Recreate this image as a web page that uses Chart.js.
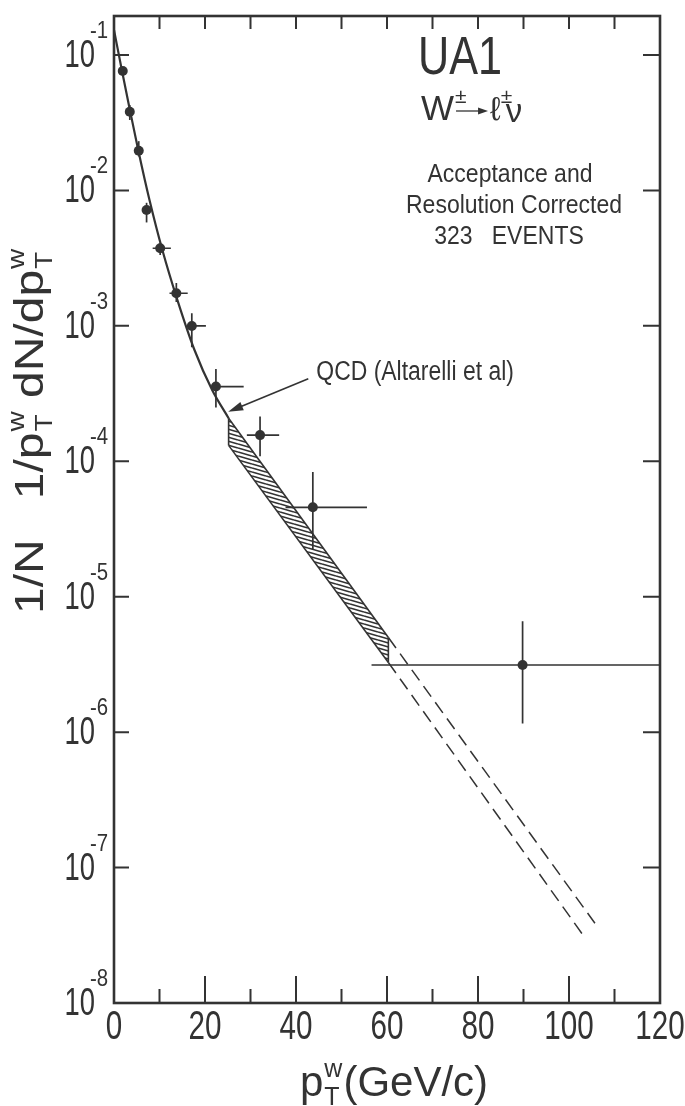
<!DOCTYPE html>
<html><head><meta charset="utf-8">
<script src="https://cdn.jsdelivr.net/npm/chart.js@4.4.1/dist/chart.umd.min.js"></script>
<style>html,body{margin:0;padding:0;background:#fff;}canvas{display:block;}</style>
</head><body>
<canvas id="c" width="685" height="1106"></canvas>
<script>
// ---- measured data points (pT in GeV/c, 1/N 1/pT dN/dpT) ----
const ptX   = [1.92, 3.47, 5.44, 7.16, 10.15, 13.7, 17.1, 22.4, 32.1, 43.7, 89.8];
const ptY   = [0.0762, 0.0381, 0.0196, 0.00716, 0.00374, 0.00174, 0.000998, 3.56e-4, 1.56e-4, 4.57e-5, 3.13e-6];
const ptYHi = [0.081, 0.0427, 0.0231, 0.0081, 0.0041, 0.00207, 0.00124, 4.81e-4, 2.14e-4, 8.32e-5, 6.6e-6];
const ptYLo = [0.071, 0.0331, 0.0178, 0.0058, 0.00334, 0.0015, 0.000696, 2.5e-4, 1.09e-4, 2.24e-5, 1.16e-6];
const ptXLo = [null, null, null, null, 8.5, 12.2, 16.2, 21.5, 29.2, 37.7, 56.6];
const ptXHi = [null, null, null, null, 12.5, 16.2, 20.2, 28.5, 36.3, 55.6, 120];
// ---- QCD curve (Altarelli et al) ----
const qcdX = [0, 1.72, 3.49, 5.32, 7.8, 10.63, 13.94, 17.69, 21.57, 25.19];
const qcdY = [0.153, 0.0775, 0.0393, 0.0199, 0.0085, 0.00363, 0.00155, 6.63e-4, 3.36e-4, 2.08e-4];
// ---- hatched band ----
const bandX  = [25.19, 60.3];
const bandHi = [2.08e-4, 5.0e-6];
const bandLo = [1.31e-4, 3.27e-6];
// ---- dashed extrapolations ----
const dashHiX = [60.3, 105.7], dashHiY = [5.0e-6, 3.88e-8];
const dashLoX = [60.3, 103.6], dashLoY = [3.27e-6, 3.0e-8];
// ---- annotation arrow (data coords) ----
const arrowTail = [42.7, 4.06e-4];
const arrowTip  = [25.1, 2.32e-4];
// ---- axes ----
const xTickVals = [0, 20, 40, 60, 80, 100, 120];
const xTickLabels = ['0', '20', '40', '60', '80', '100', '120'];
const xMinorVals = [10, 30, 50, 70, 90, 110];
const yTickVals = [1e-1, 1e-2, 1e-3, 1e-4, 1e-5, 1e-6, 1e-7, 1e-8];
const yTickExps = ['-1', '-2', '-3', '-4', '-5', '-6', '-7', '-8'];

const INK = '#333';
const FONT = '"Liberation Sans", Arial, Helvetica, sans-serif';

function pts(xs, ys){ return xs.map((v,i)=>({x:v, y:ys[i]})); }

const canvas = document.getElementById('c');
const cctx = canvas.getContext('2d');
function hatch(){
  const W = 14, H = 4;
  const t = document.createElement('canvas'); t.width = W; t.height = H;
  const g = t.getContext('2d'); g.strokeStyle = INK; g.lineWidth = 1.6;
  for (let k=-1;k<=1;k++){ g.beginPath(); g.moveTo(0,k*H); g.lineTo(W,H+k*H); g.stroke(); }
  return cctx.createPattern(t,'repeat');
}

function txt(ctx, s, x, y, size, sx, align){
  ctx.save(); ctx.translate(x,y); ctx.scale(sx||1,1);
  ctx.font = size+'px '+FONT; ctx.textAlign = align||'left'; ctx.textBaseline='alphabetic';
  ctx.fillStyle = INK; ctx.fillText(s,0,0); ctx.restore();
}
function measure(ctx, s, size){ ctx.save(); ctx.font = size+'px '+FONT; const w = ctx.measureText(s).width; ctx.restore(); return w; }

const deco = {
  id:'deco',
  beforeDraw(chart){ const c=chart.ctx; c.save(); c.fillStyle='#fff'; c.fillRect(0,0,chart.width,chart.height); c.restore(); },
  afterDatasetsDraw(chart){
    const {ctx, chartArea:a, scales:{x,y}} = chart;
    ctx.save(); ctx.beginPath(); ctx.rect(a.left,a.top,a.right-a.left,a.bottom-a.top); ctx.clip();
    ctx.strokeStyle = INK; ctx.lineWidth = 1.7;
    for (let i=0;i<ptX.length;i++){
      const px = x.getPixelForValue(ptX[i]), py = y.getPixelForValue(ptY[i]);
      ctx.beginPath();
      ctx.moveTo(px, y.getPixelForValue(ptYHi[i])); ctx.lineTo(px, y.getPixelForValue(ptYLo[i]));
      if (ptXLo[i]!==null){ ctx.moveTo(x.getPixelForValue(ptXLo[i]), py); ctx.lineTo(x.getPixelForValue(ptXHi[i]), py); }
      ctx.stroke();
    }
    ctx.restore();
  },
  afterDraw(chart){
    const {ctx, chartArea:a, scales:{x,y}} = chart;
    ctx.save();
    ctx.strokeStyle = INK; ctx.fillStyle = INK;
    // frame
    ctx.lineWidth = 2.6;
    ctx.strokeRect(a.left, a.top, a.right-a.left, a.bottom-a.top);
    // ticks
    ctx.lineWidth = 2;
    ctx.beginPath();
    xTickVals.concat(xMinorVals).forEach(v=>{
      if (v<=0 || v>=120) return;
      const px = x.getPixelForValue(v);
      const len = xMinorVals.includes(v) ? 14 : 27;
      ctx.moveTo(px, a.bottom); ctx.lineTo(px, a.bottom-len);
      ctx.moveTo(px, a.top); ctx.lineTo(px, a.top+13);
    });
    yTickVals.forEach(v=>{
      const py = y.getPixelForValue(v);
      if (py >= a.bottom-1) return;
      ctx.moveTo(a.left, py); ctx.lineTo(a.left+15, py);
      ctx.moveTo(a.right, py); ctx.lineTo(a.right-17, py);
    });
    ctx.stroke();
    // y tick labels
    yTickVals.forEach((v,i)=>{
      const py = y.getPixelForValue(v);
      txt(ctx, '10', a.left-19, py+12, 38, 0.72, 'right');
      txt(ctx, yTickExps[i], a.left-24, py-17, 24, 0.85, 'left');
    });
    // x tick labels
    xTickVals.forEach((v,i)=>{
      txt(ctx, xTickLabels[i], x.getPixelForValue(v), 1039, 40, 0.74, 'center');
    });
    // x title
    let cx = 300; const xb = 1096;
    txt(ctx,'p',cx,xb,42); cx += measure(ctx,'p',42)+1;
    txt(ctx,'T',cx,xb+9,25); txt(ctx,'w',cx,xb-19,25);
    cx += Math.max(measure(ctx,'T',25), measure(ctx,'w',25))+1;
    txt(ctx,'(GeV/c)',cx,xb,42);
    // y title (rotated)
    ctx.save();
    ctx.translate(43, 614); ctx.rotate(-Math.PI/2); ctx.scale(1,0.85);
    let lx = 0; const F = 48, S = 28;
    const put = (s,sz,dy)=>{ txt(ctx,s,lx,dy||0,sz); };
    put('1/N',F); lx += measure(ctx,'1/N',F) + measure(ctx,'   ',F);
    put('1/p',F); lx += measure(ctx,'1/p',F)+1;
    put('T',S,10); put('w',S,-22); lx += measure(ctx,'w',S) + measure(ctx,' ',F);
    put('dN/dp',F); lx += measure(ctx,'dN/dp',F)+1;
    put('T',S,10); put('w',S,-22);
    ctx.restore();
    // top-right text block
    txt(ctx,'UA1',460,74,54,0.8,'center');
    let wx = 421; const wb = 120;
    txt(ctx,'W',wx,wb,35); wx += measure(ctx,'W',35);
    txt(ctx,'±',wx+1,wb-17,21);
    ctx.lineWidth = 1.3; ctx.beginPath(); ctx.moveTo(wx+2, wb-9); ctx.lineTo(wx+28, wb-9); ctx.stroke();
    ctx.beginPath(); ctx.moveTo(wx+34, wb-9); ctx.lineTo(wx+24, wb-12.5); ctx.lineTo(wx+24, wb-5.5); ctx.closePath(); ctx.fill();
    wx += 36;
    txt(ctx,'ℓ',wx,wb,33); wx += measure(ctx,'ℓ',33);
    txt(ctx,'±',wx,wb-17,21);
    txt(ctx,'ν',wx+5,wb+2,33);
    txt(ctx,'Acceptance and',510,182,25,0.92,'center');
    txt(ctx,'Resolution Corrected',514,213,25,0.92,'center');
    txt(ctx,'323   EVENTS',509,244,25,0.92,'center');
    // arrow and label
    const tx = x.getPixelForValue(arrowTail[0]), ty = y.getPixelForValue(arrowTail[1]);
    const hx = x.getPixelForValue(arrowTip[0]),  hy = y.getPixelForValue(arrowTip[1]);
    const ang = Math.atan2(hy-ty, hx-tx);
    ctx.lineWidth = 1.6; ctx.beginPath(); ctx.moveTo(tx,ty); ctx.lineTo(hx-10*Math.cos(ang), hy-10*Math.sin(ang)); ctx.stroke();
    ctx.beginPath(); ctx.moveTo(hx,hy);
    ctx.lineTo(hx-15*Math.cos(ang)+4.5*Math.sin(ang), hy-15*Math.sin(ang)-4.5*Math.cos(ang));
    ctx.lineTo(hx-15*Math.cos(ang)-4.5*Math.sin(ang), hy-15*Math.sin(ang)+4.5*Math.cos(ang));
    ctx.closePath(); ctx.fill();
    txt(ctx,'QCD (Altarelli et al)', tx+8, ty+1, 27, 0.85, 'left');
    ctx.restore();
  }
};

const lineBase = {showLine:true, pointRadius:0, borderColor:INK, fill:false, tension:0};
new Chart(canvas, {
  type:'scatter',
  data:{ datasets:[
    Object.assign({}, lineBase, {data:pts(bandX,bandHi), borderWidth:1.6}),
    Object.assign({}, lineBase, {data:pts(bandX,bandLo), borderWidth:1.6, fill:'-1', backgroundColor:hatch()}),
    Object.assign({}, lineBase, {data:pts([bandX[0],bandX[0]],[bandHi[0],bandLo[0]]), borderWidth:1.6}),
    Object.assign({}, lineBase, {data:pts([bandX[1],bandX[1]],[bandHi[1],bandLo[1]]), borderWidth:1.6}),
    Object.assign({}, lineBase, {data:pts(qcdX,qcdY), borderWidth:2.2, cubicInterpolationMode:'monotone'}),
    Object.assign({}, lineBase, {data:pts(dashHiX,dashHiY), borderWidth:1.5, borderDash:[13,7]}),
    Object.assign({}, lineBase, {data:pts(dashLoX,dashLoY), borderWidth:1.5, borderDash:[13,7]}),
    {data:pts(ptX,ptY), showLine:false, pointRadius:5, pointBackgroundColor:INK, pointBorderColor:INK, pointBorderWidth:0}
  ]},
  options:{
    responsive:false, animation:false, devicePixelRatio:1,
    layout:{padding:{left:114, right:25, top:16, bottom:103}},
    plugins:{legend:{display:false}, tooltip:{enabled:false}},
    scales:{
      x:{type:'linear', min:0, max:120, display:false},
      y:{type:'logarithmic', min:1e-8, max:0.194, display:false}
    }
  },
  plugins:[deco]
});
</script>
</body></html>
